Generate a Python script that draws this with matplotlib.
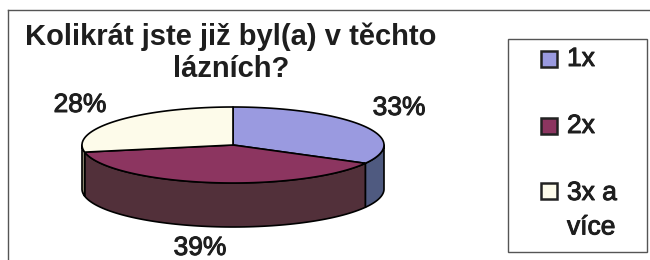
import numpy as np
import matplotlib.pyplot as plt
import matplotlib.patheffects as pe
from matplotlib.patches import Polygon, Rectangle

plt.rcParams["font.family"] = ["Liberation Sans", "DejaVu Sans"]

# --- data ---
title = "Kolikrát jste již byl(a) v těchto\nlázních?"
categories = ["1x", "2x", "3x a\nvíce"]
values = [33, 39, 28]

top_colors = ["#9a9ae0", "#8c3560", "#fdfbea"]
side_colors = ["#4f5a80", "#52303a", "#a09a80"]

# pie geometry in pixel units (figure is 650 x 260)
cx, cy = 233, 145
a, b = 151, 38
depth = 44

ink = "#1e1e1e"
thick = [pe.withStroke(linewidth=0.7, foreground=ink)]

fig = plt.figure(figsize=(6.5, 2.6), dpi=100)
ax = fig.add_axes([0, 0, 1, 1])
ax.set_xlim(0, 650)
ax.set_ylim(260, 0)
ax.axis("off")


def ellipse_pts(t0, t1, dy=0, n=80):
    t = np.radians(np.linspace(t0, t1, n))
    return np.column_stack([cx + a * np.cos(t), cy - b * np.sin(t) + dy])


fracs = np.array(values) / np.sum(values)
starts = 90 - 360 * np.concatenate([[0], np.cumsum(fracs)[:-1]])
ends = starts - 360 * fracs

# side walls (only the front half, angles between -180 and 0)
for s, e, col in zip(starts, ends, side_colors):
    lo, hi = max(e, -180), min(s, 0)
    if hi <= lo:
        continue
    top = ellipse_pts(lo, hi)
    bot = ellipse_pts(hi, lo, dy=depth)
    ax.add_patch(Polygon(np.vstack([top, bot]), closed=True, facecolor=col,
                         edgecolor="black", lw=1.2, joinstyle="round"))

# top faces
for s, e, col in zip(starts, ends, top_colors):
    pts = np.vstack([[cx, cy], ellipse_pts(s, e)])
    ax.add_patch(Polygon(pts, closed=True, facecolor=col, edgecolor="black",
                         lw=1.2, joinstyle="round"))

# percentage labels
label_pos = [(399, 108), (200, 248), (80, 105)]
for v, (x, y) in zip(values, label_pos):
    ax.text(x, y, f"{v}%", fontsize=19, ha="center", va="center", color=ink,
            path_effects=thick)

# title
ax.text(231, 53, title, fontsize=21, fontweight="bold", ha="center", va="center",
        linespacing=1.2, color=ink)

# chart border
ax.plot([7.5, 7.5], [260, 10], color="#555555", lw=1)
ax.plot([7.5, 650], [10, 10], color="#555555", lw=1)

# legend
ax.add_patch(Rectangle((508, 39), 139, 213, facecolor="white",
                       edgecolor="#555555", lw=1))
leg_y = [59, 126, 191]
for cat, col, y in zip(categories, top_colors, leg_y):
    ax.add_patch(Rectangle((541, y - 8), 16, 16, facecolor=col,
                           edgecolor="#222222", lw=1.8))
    multi = "\n" in cat
    ax.text(567, y - 10 if multi else y, cat, fontsize=19, ha="left",
            va="top" if multi else "center", color=ink, linespacing=1.55,
            path_effects=thick)

fig.savefig("out.png", dpi=100)
